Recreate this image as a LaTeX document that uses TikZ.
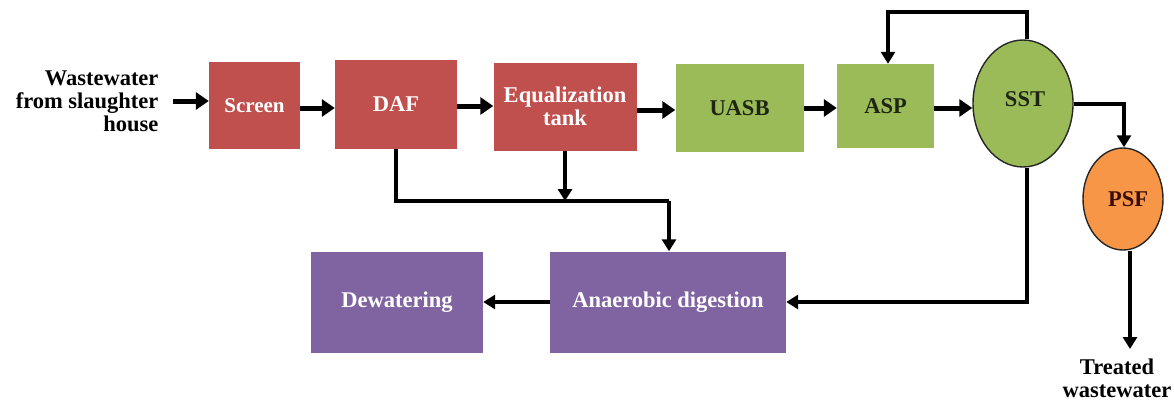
\documentclass[tikz,border=0pt]{standalone}
\usepackage{fontspec}
\setmainfont{Liberation Serif}
\usetikzlibrary{arrows.meta,shapes.geometric,calc}
\definecolor{boxred}{HTML}{C0504D}
\definecolor{boxgreen}{HTML}{9BBB59}
\definecolor{boxpurple}{HTML}{8064A2}
\definecolor{boxorange}{HTML}{F79646}
\definecolor{darktext}{HTML}{1E2612}
\definecolor{psftext}{HTML}{3A0C08}
\tikzset{
  lbl/.style={font=\fontsize{22.5}{23}\selectfont\bfseries},
  redbox/.style={rectangle, fill=boxred, text=white, lbl, inner sep=0pt, align=center},
  greenbox/.style={rectangle, fill=boxgreen, text=darktext, lbl, inner sep=0pt, align=center},
  purplebox/.style={rectangle, fill=boxpurple, text=white, lbl, inner sep=0pt, align=center},
  tank/.style={ellipse, draw=black!85, line width=1.4pt, inner sep=0pt, lbl},
  mainflow/.style={line width=5pt, -{Triangle[length=13pt,width=17pt]}},
  sideflow/.style={line width=3.4pt, -{Triangle[length=12pt,width=14pt]}},
  plainline/.style={line width=3.4pt},
}
\begin{document}
\begin{tikzpicture}[x=1pt,y=-1pt]
\useasboundingbox (0,0) rectangle (1174,402);
% nodes
\node[lbl, align=right, anchor=east] (src) at (162,101) {Wastewater\\from slaughter\\house};
\node[redbox, minimum width=91pt, minimum height=87pt] (screen) at (254.5,105.5) {\fontsize{21}{23}\selectfont Screen};
\node[redbox, minimum width=122pt, minimum height=89pt] (daf) at (396,104.5) {DAF};
\node[redbox, minimum width=143pt, minimum height=88pt] (eq) at (565,106.5) {Equalization\\tank};
\node[greenbox, minimum width=128pt, minimum height=88pt] (uasb) at (739.5,108) {UASB};
\node[greenbox, minimum width=97pt, minimum height=84pt] (asp) at (885.5,106) {ASP};
\node[tank, fill=boxgreen, text=darktext, minimum width=100pt, minimum height=127pt] (sst) at (1023,103.5) {};
\node[lbl, text=darktext] (ssttext) at (1025,99) {SST};
\node[tank, fill=boxorange, text=psftext, minimum width=80pt, minimum height=102pt] (psf) at (1123,199) {};
\node[lbl, text=psftext] (psftext) at (1128,199) {PSF};
\node[purplebox, minimum width=172pt, minimum height=101pt] (dew) at (397,302) {Dewatering};
\node[purplebox, minimum width=236pt, minimum height=101pt] (ad) at (668,302) {Anaerobic digestion};
\node[lbl, align=center, anchor=north] (out) at (1117,355) {Treated\\wastewater};
% helper coordinates
\coordinate (srcend) at (173,101);
\coordinate (topleft) at (888,12);
\coordinate (topright) at (1027,12);
\coordinate (psfcorner) at (1124,104);
\coordinate (joinL) at (396,201);
\coordinate (joinR) at (669,201);
\coordinate (joinEq) at (565,201);
\coordinate (sstlow) at (1027,302);
\coordinate (outtip) at (1130,349);
% main flow
\draw[mainflow] (srcend) -- (screen.west |- srcend);
\draw[mainflow] (screen.east |- 0,108) -- (daf.west |- 0,108);
\draw[mainflow] (daf.east |- 0,106) -- (eq.west |- 0,106);
\draw[mainflow] (eq.east |- 0,110) -- (uasb.west |- 0,110);
\draw[mainflow] (uasb.east |- 0,108) -- (asp.west |- 0,108);
\draw[mainflow] (asp.east |- 0,108) -- (sst.west |- 0,108);
% recycle to ASP
\draw[sideflow, line width=3.8pt] (sst.north -| topright) -- (topright) -- (topleft) -- (asp.north -| topleft);
% SST to PSF
\draw[sideflow] (sst.east |- psfcorner) -- (psfcorner) -- (psf.north -| psfcorner);
% PSF to outlet
\draw[sideflow] (psf.south -| outtip) -- (outtip);
% sludge lines
\draw[plainline] (daf.south) -- (joinL) -- (joinR);
\draw[sideflow] (joinR) -- (ad.north -| joinR);
\draw[sideflow] (eq.south -| joinEq) -- (joinEq);
\draw[sideflow, line width=4pt] (sst.south -| sstlow) -- (sstlow) -- (ad.east |- sstlow);
\draw[sideflow] (ad.west) -- (dew.east);
\end{tikzpicture}
\end{document}
